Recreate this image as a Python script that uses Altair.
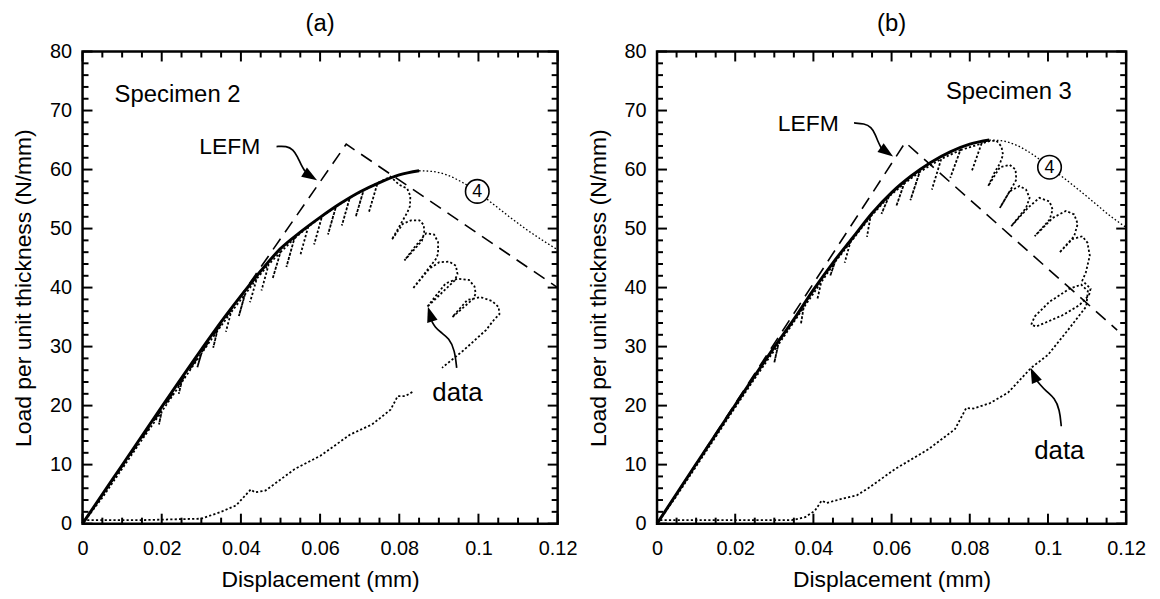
import altair as alt
import pandas as pd

FONT = "Liberation Sans"

# ---------------- axis ticks ----------------
X_MAJOR = [0, 0.02, 0.04, 0.06, 0.08, 0.1, 0.12]
X_MINOR = [0.005, 0.01, 0.015, 0.025, 0.03, 0.035, 0.045, 0.05, 0.055, 0.065, 0.07, 0.075,
           0.085, 0.09, 0.095, 0.105, 0.11, 0.115]
Y_MAJOR = [0, 10, 20, 30, 40, 50, 60, 70, 80]
Y_MINOR = [2, 4, 6, 8, 12, 14, 16, 18, 22, 24, 26, 28, 32, 34, 36, 38, 42, 44, 46, 48,
           52, 54, 56, 58, 62, 64, 66, 68, 72, 74, 76, 78]

# ---------------- panel (a): Specimen 2 ----------------
A_MODEL_D = [0, 0.01, 0.02, 0.03, 0.035, 0.04, 0.045, 0.05, 0.055, 0.06, 0.065, 0.07, 0.075, 0.08, 0.085]
A_MODEL_L = [0, 9.9, 19.8, 29.5, 34.2, 38.6, 42.8, 46.6, 49.4, 51.9, 54.2, 56.2, 57.8, 59.1, 59.8]

A_LEFM_D = [0, 0.0666, 0.12]
A_LEFM_L = [0, 64.3, 40.0]

A_C4_D = [0.085, 0.088, 0.092, 0.096, 0.1, 0.104, 0.108, 0.112, 0.116, 0.12]
A_C4_L = [59.8, 59.7, 59.1, 57.8, 56.1, 54.0, 51.9, 49.9, 48.1, 46.4]

A_DATA1_D = [0, 0.005, 0.010, 0.015, 0.0200, 0.0193, 0.0200, 0.0250, 0.0243, 0.0250, 0.0300,
             0.0290, 0.0300, 0.0340, 0.0330, 0.0340, 0.0375, 0.0362, 0.0375, 0.0410, 0.0395,
             0.0410, 0.0440, 0.0423, 0.0440, 0.0470, 0.0452, 0.0470, 0.0500, 0.0480, 0.0500,
             0.0535, 0.0515, 0.0535, 0.0570, 0.0550, 0.0570, 0.0605, 0.0585, 0.0605, 0.0640,
             0.0620, 0.0640, 0.0675, 0.0655, 0.0675, 0.0710, 0.0690, 0.0710, 0.0745, 0.0723,
             0.0745, 0.0778,
             0.0800, 0.0820, 0.0828, 0.0827, 0.0820, 0.0781,
             0.0809, 0.0830, 0.0851, 0.0862, 0.0863, 0.0857, 0.0813,
             0.0838, 0.0868, 0.0888, 0.0898, 0.0898, 0.0892, 0.0834,
             0.0876, 0.0901, 0.0926, 0.0943, 0.0947, 0.0940, 0.0870,
             0.0917, 0.0947, 0.0976, 0.0990, 0.0993, 0.0987, 0.0934,
             0.0972, 0.1005, 0.1035, 0.1051, 0.1053, 0.1040, 0.1019, 0.0963, 0.0908]
A_DATA1_L = [0, 4.4, 9.3, 14.2, 19.0, 16.8, 19.0, 23.9, 22.0, 23.9, 28.8,
             26.5, 28.8, 32.6, 29.8, 32.6, 35.8, 32.5, 35.8, 38.8, 35.2,
             38.8, 41.5, 37.5, 41.5, 43.9, 39.5, 43.9, 46.0, 41.5, 46.0,
             48.3, 43.5, 48.3, 50.3, 45.5, 50.3, 52.1, 47.3, 52.1, 53.7,
             49.0, 53.7, 55.2, 50.5, 55.2, 56.5, 52.0, 56.5, 57.7, 52.7,
             57.7, 58.8,
             57.4, 56.8, 55.5, 53.8, 52.7, 48.1,
             50.8, 51.4, 51.4, 50.6, 49.3, 47.9, 44.6,
             46.8, 49.2, 49.0, 47.7, 45.7, 44.8, 39.8,
             43.2, 44.3, 44.4, 43.7, 42.3, 41.2, 36.7,
             40.7, 41.5, 41.3, 40.2, 39.0, 38.1, 35.0,
             37.9, 38.4, 37.7, 36.7, 35.5, 34.6, 32.8, 29.4, 26.4]

A_DATA2_D = [0.0833, 0.0815, 0.0796, 0.0778, 0.0731, 0.0676, 0.0601, 0.0536, 0.0462, 0.0435,
             0.0425, 0.0388, 0.035, 0.030, 0.015, 0.0]
A_DATA2_L = [22.3, 21.6, 21.6, 19.3, 16.8, 15.1, 11.5, 9.25, 5.6, 5.3,
             5.8, 3.1, 2.0, 0.84, 0.6, 0.6]

A_LEFM_ARROW_D = [0.0490, 0.0515, 0.0532, 0.0543, 0.0552, 0.0562]
A_LEFM_ARROW_L = [63.9, 64.0, 63.4, 62.2, 60.8, 59.7]
A_DATA_ARROW_D = [0.0945, 0.0940, 0.0926, 0.0905, 0.0890, 0.0882]
A_DATA_ARROW_L = [26.4, 29.4, 31.4, 32.4, 33.3, 34.3]
A_HEADS_D = [0.0573, 0.0879]
A_HEADS_L = [59.0, 35.3]
A_HEADS_ANGLE = [122, 343]

A_TEXT = ["Specimen 2", "LEFM", "data"]
A_TEXT_D = [0.024, 0.0372, 0.0947]
A_TEXT_L = [72.6, 63.8, 22.2]
A_TEXT_SIZE = [24, 23, 26]
A_CIRCLE_D = [0.0997]
A_CIRCLE_L = [56.3]

# ---------------- panel (b): Specimen 3 ----------------
B_MODEL_D = [0, 0.01, 0.02, 0.03, 0.035, 0.04, 0.045, 0.05, 0.055, 0.06, 0.065, 0.07, 0.075, 0.08, 0.085]
B_MODEL_L = [0, 10.1, 20.1, 29.9, 34.6, 39.6, 44.2, 48.4, 52.6, 56.1, 58.9, 61.2, 63.0, 64.3, 65.0]

B_LEFM_D = [0, 0.0635, 0.1177]
B_LEFM_L = [0, 64.6, 32.8]

B_C4_D = [0.085, 0.088, 0.092, 0.096, 0.1, 0.104, 0.108, 0.112, 0.116, 0.12]
B_C4_L = [65.0, 64.9, 64.1, 62.6, 60.6, 58.6, 56.5, 54.3, 52.1, 50.2]

B_DATA_D = [0, 0.005, 0.010, 0.015, 0.020, 0.025, 0.0310, 0.0300, 0.0310, 0.0375, 0.0368,
            0.0375, 0.0420, 0.0410, 0.0420, 0.0455, 0.0443, 0.0455, 0.0494, 0.0480, 0.0494,
            0.0546, 0.0537, 0.0546, 0.0593, 0.0574, 0.0593, 0.0632, 0.0612, 0.0632, 0.0672,
            0.0648, 0.0672, 0.0727, 0.0703, 0.0727, 0.0776, 0.0750, 0.0776, 0.0830, 0.0805,
            0.0830, 0.0850, 0.0868, 0.0881, 0.0885, 0.0877, 0.0864, 0.0847,
            0.0877, 0.0902, 0.0917, 0.0919, 0.0910, 0.0877,
            0.0902, 0.0927, 0.0944, 0.0953, 0.0944, 0.0906,
            0.0950, 0.0978, 0.1004, 0.1012, 0.1004, 0.0966,
            0.1012, 0.1046, 0.1067, 0.1076, 0.1067, 0.1029,
            0.1062, 0.1088, 0.1101, 0.1107, 0.1097, 0.1088,
            0.1109, 0.1105, 0.1080, 0.1037, 0.0970, 0.0957, 0.0966, 0.1004, 0.1055, 0.1085,
            0.1102, 0.1098, 0.1051, 0.1000, 0.0957, 0.0898, 0.0851, 0.0809, 0.0791, 0.0762,
            0.0694, 0.0609, 0.0540, 0.0511, 0.0472, 0.0434, 0.0421, 0.0404, 0.0379, 0.0345,
            0.015, 0.0]
B_DATA_L = [0, 4.7, 9.7, 14.7, 19.7, 24.6, 30.3, 27.3, 30.3, 36.6, 33.8,
            36.6, 40.9, 38.0, 40.9, 44.3, 42.0, 44.3, 47.6, 44.2, 47.6,
            52.0, 48.6, 52.0, 55.4, 52.5, 55.4, 57.6, 53.8, 57.6, 59.6,
            54.8, 59.6, 61.8, 56.6, 61.8, 63.3, 58.6, 63.3, 64.4, 59.7,
            64.4, 64.8, 64.9, 63.9, 62.5, 61.0, 59.6, 57.2,
            60.4, 60.8, 60.0, 58.3, 57.2, 53.5,
            56.3, 57.2, 56.6, 55.2, 53.5, 50.4,
            53.6, 55.2, 54.6, 53.2, 51.5, 48.7,
            51.8, 53.0, 52.4, 50.8, 48.7, 45.9,
            48.2, 48.7, 47.6, 45.4, 42.6, 41.2,
            39.8, 38.7, 37.0, 35.3, 33.4, 33.7, 35.1, 37.6, 39.8, 40.5,
            39.4, 36.8, 32.8, 28.6, 26.4, 22.2, 20.4, 19.5, 19.6, 16.0,
            12.6, 9.25, 6.0, 4.8, 4.2, 3.5, 3.9, 2.2, 1.1, 0.6,
            0.6, 0.6]

B_LEFM_ARROW_D = [0.0504, 0.0530, 0.0548, 0.0558, 0.0566, 0.0574]
B_LEFM_ARROW_L = [67.9, 67.8, 67.2, 66.0, 64.6, 63.6]
B_DATA_ARROW_D = [0.1034, 0.1030, 0.1017, 0.0996, 0.0979, 0.0970]
B_DATA_ARROW_L = [16.5, 19.3, 21.3, 22.4, 23.6, 24.4]
B_HEADS_D = [0.0585, 0.0965]
B_HEADS_L = [63.1, 25.0]
B_HEADS_ANGLE = [125, 336]

B_TEXT = ["Specimen 3", "LEFM", "data"]
B_TEXT_D = [0.090, 0.0387, 0.1029]
B_TEXT_L = [73.2, 67.7, 12.3]
B_TEXT_SIZE = [24, 23, 26]
B_CIRCLE_D = [0.1004]
B_CIRCLE_L = [60.4]

XS = alt.Scale(domain=[0, 0.12], nice=False, zero=False)
YS = alt.Scale(domain=[0, 80], nice=False, zero=False)

X_AXIS = alt.Axis(values=X_MAJOR, labelExpr="format(datum.value, '~g')", ticks=False,
                  domain=False, grid=False,
                  labelFontSize=20, labelFont=FONT, labelColor="black", labelPadding=15,
                  labelFlush=False, labelOverlap=False,
                  title="Displacement (mm)", titleFontSize=23, titleFont=FONT,
                  titleFontWeight="normal", titleColor="black", titlePadding=10)
Y_AXIS = alt.Axis(values=Y_MAJOR, ticks=False, domain=False, grid=False,
                  labelFontSize=20, labelFont=FONT, labelColor="black", labelPadding=11,
                  labelFlush=False, labelOverlap=False,
                  title="Load per unit thickness (N/mm)", titleFontSize=23, titleFont=FONT,
                  titleFontWeight="normal", titleColor="black", titlePadding=14)

HEAD = "M0,-1L-0.6,0.7L0.6,0.7Z"


def path_df(d, L):
    return pd.DataFrame({"d": d, "L": L, "i": list(range(len(d)))})


def xq():
    return alt.X("d:Q", scale=XS, axis=X_AXIS)


def yq():
    return alt.Y("L:Q", scale=YS, axis=Y_AXIS)


def line_layer(df, **mark):
    return alt.Chart(df).mark_line(color="black", **mark).encode(
        x=xq(), y=yq(), order=alt.Order("i:Q"))


def tick_layers():
    layers = []
    for vals, size in [(X_MAJOR, 10), (X_MINOR, 6)]:
        df = pd.DataFrame({"d": vals})
        for edge, off in [(0, -size / 2), (80, size / 2)]:
            layers.append(alt.Chart(df).mark_tick(orient="vertical", size=size, thickness=2,
                                                  color="black", opacity=1, yOffset=off).encode(
                x=xq(), y=alt.YDatum(edge, scale=YS, axis=Y_AXIS)))
    for vals, size in [(Y_MAJOR, 10), (Y_MINOR, 6)]:
        df = pd.DataFrame({"L": vals})
        for edge, off in [(0, size / 2), (0.12, -size / 2)]:
            layers.append(alt.Chart(df).mark_tick(orient="horizontal", size=size, thickness=2,
                                                  color="black", opacity=1, xOffset=off).encode(
                y=yq(), x=alt.XDatum(edge, scale=XS, axis=X_AXIS)))
    return layers


def panel(title, width, model, lefm, c4, data_segs, arrows, heads, texts, circle):
    layers = [alt.Chart(path_df(model[0], model[1])).mark_line(
        color="black", strokeWidth=3, interpolate="monotone").encode(
        x=xq(), y=yq(), order=alt.Order("i:Q"))]
    layers.append(line_layer(path_df(*lefm), strokeWidth=1.6, strokeDash=[13, 8]))
    layers.append(line_layer(path_df(*c4), strokeWidth=1.3, strokeDash=[1.6, 2.2],
                             interpolate="monotone"))
    for seg in data_segs:
        layers.append(line_layer(path_df(*seg), strokeWidth=1.8, strokeDash=[2.2, 2.2]))
    for arr in arrows:
        layers.append(line_layer(path_df(*arr), strokeWidth=1.7, interpolate="basis"))
    hd = pd.DataFrame({"d": heads[0], "L": heads[1], "a": heads[2]})
    layers.append(alt.Chart(hd).mark_point(shape=HEAD, filled=True, color="black", opacity=1,
                                           size=330).encode(
        x=xq(), y=yq(), angle=alt.Angle("a:Q", scale=None)))
    cd = pd.DataFrame({"d": circle[0], "L": circle[1], "t": ["4"] * len(circle[0])})
    layers.append(alt.Chart(cd).mark_point(shape="circle", filled=False, fill="white",
                                           fillOpacity=1, stroke="black", strokeWidth=1.6,
                                           opacity=1, size=560).encode(x=xq(), y=yq()))
    layers.append(alt.Chart(cd).mark_text(font=FONT, fontSize=18, color="black",
                                          baseline="middle", align="center", dy=1).encode(
        x=xq(), y=yq(), text="t:N"))
    td = pd.DataFrame({"d": texts[1], "L": texts[2], "t": texts[0], "s": texts[3]})
    layers.append(alt.Chart(td).mark_text(font=FONT, color="black", baseline="middle",
                                          align="center").encode(
        x=xq(), y=yq(), text="t:N", size=alt.Size("s:Q", scale=None)))
    layers.extend(tick_layers())
    return alt.layer(*layers).properties(
        width=width, height=475,
        title=alt.TitleParams(text=title, fontSize=24, font=FONT, fontWeight="normal",
                              color="black", anchor="middle", frame="group", offset=6))


chart_a = panel("(a)", 478,
                (A_MODEL_D, A_MODEL_L), (A_LEFM_D, A_LEFM_L), (A_C4_D, A_C4_L),
                [(A_DATA1_D, A_DATA1_L), (A_DATA2_D, A_DATA2_L)],
                [(A_LEFM_ARROW_D, A_LEFM_ARROW_L), (A_DATA_ARROW_D, A_DATA_ARROW_L)],
                (A_HEADS_D, A_HEADS_L, A_HEADS_ANGLE),
                (A_TEXT, A_TEXT_D, A_TEXT_L, A_TEXT_SIZE),
                (A_CIRCLE_D, A_CIRCLE_L))

chart_b = panel("(b)", 472,
                (B_MODEL_D, B_MODEL_L), (B_LEFM_D, B_LEFM_L), (B_C4_D, B_C4_L),
                [(B_DATA_D, B_DATA_L)],
                [(B_LEFM_ARROW_D, B_LEFM_ARROW_L), (B_DATA_ARROW_D, B_DATA_ARROW_L)],
                (B_HEADS_D, B_HEADS_L, B_HEADS_ANGLE),
                (B_TEXT, B_TEXT_D, B_TEXT_L, B_TEXT_SIZE),
                (B_CIRCLE_D, B_CIRCLE_L))

chart = alt.hconcat(chart_a, chart_b, spacing=100, bounds="flush").properties(
    padding={"left": 3, "top": 0, "right": 5, "bottom": 0}
).configure(font=FONT).configure_view(stroke="black", strokeWidth=2.5)

chart.save("out.html", embed_options={"renderer": "svg", "actions": False})
